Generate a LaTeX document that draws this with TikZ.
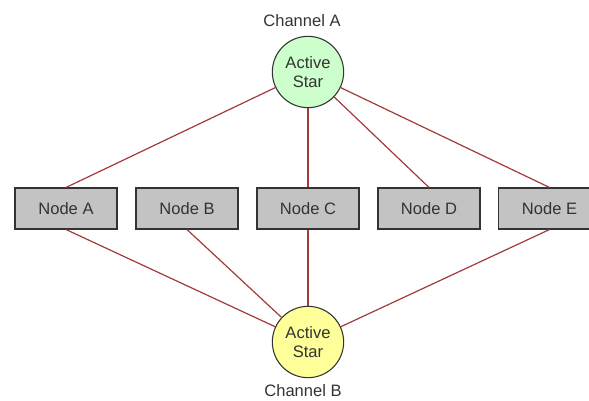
\documentclass[tikz,border=0pt]{standalone}
\usepackage{fontspec}
\setmainfont{Liberation Sans}
\usepackage{tikz}

\definecolor{linkred}{HTML}{A33A3A}
\definecolor{boxgray}{HTML}{C3C3C3}
\definecolor{stargreen}{HTML}{CCFFCC}
\definecolor{staryellow}{HTML}{FFFF99}

\tikzset{
  ecu/.style={draw=black!80, fill=boxgray, line width=0.8pt, minimum width=76.5pt, minimum height=30.75pt, inner sep=0pt, text=black!80},
  star/.style={circle, draw=black!80, line width=0.8pt, minimum size=53.5pt, inner sep=0pt, align=center, text=black!80},
  link/.style={linkred, line width=0.9pt},
  lbl/.style={text=black!80}
}

\begin{document}
\begin{tikzpicture}[x=0.75pt, y=-0.75pt, font=\fontsize{12.4}{14.5}\selectfont]
    \useasboundingbox (0,0) rectangle (589,400);
    % stars
    \node[star, fill=stargreen] (starA) at (308,72) {Active\\Star};
    \node[star, fill=staryellow] (starB) at (308,342) {Active\\Star};
    \node[lbl] (chanA) at (302,21) {Channel A};
    \node[lbl] (chanB) at (303,391) {Channel B};
    % nodes
    \node[ecu] (nA) at (66,208.5) {Node A};
    \node[ecu] (nB) at (187,208.5) {Node B};
    \node[ecu] (nC) at (308,208.5) {Node C};
    \node[ecu] (nD) at (429,208.5) {Node D};
    \node[ecu] (nE) at (549.5,208.5) {Node E};
    % channel A links
    \foreach \n in {nA,nC,nD,nE}
        \draw[link] (\n.north) -- (starA);
    % channel B links
    \foreach \n in {nA,nB,nC,nE}
        \draw[link] (\n.south) -- (starB);
\end{tikzpicture}
\end{document}
